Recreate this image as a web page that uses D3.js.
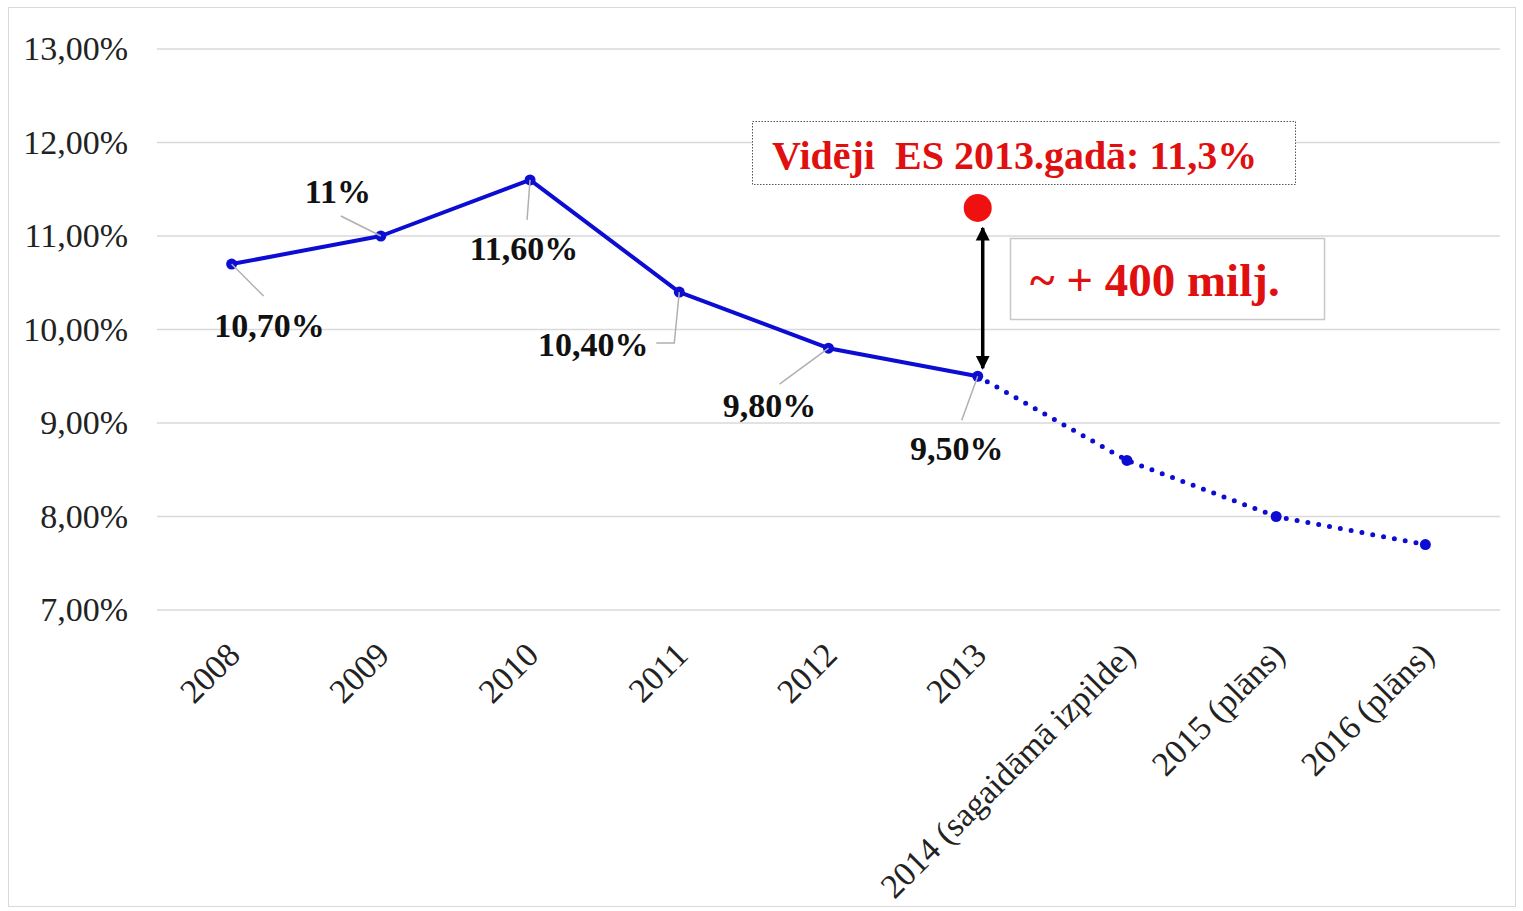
<!DOCTYPE html>
<html>
<head>
<meta charset="utf-8">
<script src="https://cdn.jsdelivr.net/npm/d3@7"></script>
<style>
  body { margin: 0; background: #fff; }
  svg { display: block; font-family: "Liberation Serif", "Times New Roman", serif; }
</style>
</head>
<body>
<svg id="chart" width="1523" height="911"></svg>
<script>
// categories and values
const years = ["2008", "2009", "2010", "2011", "2012", "2013",
  "2014 (sagaidāmā izpilde)", "2015 (plāns)", "2016 (plāns)"];
const rate = [10.7, 11.0, 11.6, 10.4, 9.8, 9.5, 8.6, 8.0, 7.7];
const rateLabels = ["10,70%", "11%", "11,60%", "10,40%", "9,80%", "9,50%", null, null, null];
const yTicks = [7, 8, 9, 10, 11, 12, 13];
const euAverage = 11.3;
const euYear = "2013";
const euText = "Vidēji  ES 2013.gadā: 11,3%";
const gapText = "~ + 400 milj.";
const lastActual = 5; // index of 2013, after it the line is a plan (dotted)

// label placement (offsets from the point, in px) and leader line ends
const labelPos = [
  {dx: 38, dy: 73, lx: 32, ly: 32},
  {dx: -43, dy: -33, lx: -40, ly: -20},
  {dx: -6, dy: 80, lx: -3, ly: 40},
  {dx: -86, dy: 64, lx: -5, ly: 51, hx: -18},
  {dx: -59, dy: 69, lx: -49, ly: 36},
  {dx: -21, dy: 84, lx: -16, ly: 44}
];

const svg = d3.select("#chart");
const margin = {left: 157, right: 23, top: 49, bottom: 301};
const W = 1523, H = 911;

// outer frame
svg.append("rect").attr("x", 8.5).attr("y", 7.5).attr("width", W - 16).attr("height", H - 12)
  .attr("fill", "none").attr("stroke", "#d9d9d9").attr("stroke-width", 1);

const x = d3.scalePoint().domain(years).range([margin.left, W - margin.right]).padding(0.5);
const y = d3.scaleLinear().domain([7, 13]).range([H - margin.bottom, margin.top]);

// grid lines
svg.append("g").selectAll("line").data(yTicks).join("line")
  .attr("x1", margin.left).attr("x2", W - margin.right)
  .attr("y1", d => y(d)).attr("y2", d => y(d))
  .attr("stroke", "#d9d9d9").attr("stroke-width", 1.5);

// y axis labels
const yAxis = d3.axisLeft(y).tickValues(yTicks).tickSize(0).tickPadding(29)
  .tickFormat(d => d3.format(".2f")(d).replace(".", ",") + "%");
const gy = svg.append("g").attr("transform", `translate(${margin.left},0)`).call(yAxis);
gy.select(".domain").remove();
gy.selectAll("text").attr("font-size", 34).attr("fill", "#222")
  .attr("font-family", "Liberation Serif, serif");

// x axis labels, rotated
const xAxis = d3.axisBottom(x).tickSize(0).tickPadding(0);
const gx = svg.append("g").attr("transform", `translate(0,${y(7)})`).call(xAxis);
gx.select(".domain").remove();
gx.selectAll("text")
  .attr("font-size", 34).attr("fill", "#222").attr("font-family", "Liberation Serif, serif")
  .attr("text-anchor", "end").attr("dy", null).attr("y", 0)
  .attr("transform", "translate(10,47) rotate(-45)");

const pts = years.map((c, i) => ({c, v: rate[i], i}));
const line = d3.line().x(d => x(d.c)).y(d => y(d.v));
const blue = "#0c0cd2";

svg.append("path").datum(pts.slice(0, lastActual + 1))
  .attr("d", line).attr("fill", "none").attr("stroke", blue).attr("stroke-width", 4)
  .attr("stroke-linejoin", "round");
svg.append("path").datum(pts.slice(lastActual))
  .attr("d", line).attr("fill", "none").attr("stroke", blue).attr("stroke-width", 5)
  .attr("stroke-linecap", "round").attr("stroke-dasharray", "0 11");

svg.append("g").selectAll("circle").data(pts).join("circle")
  .attr("cx", d => x(d.c)).attr("cy", d => y(d.v)).attr("r", 5.5).attr("fill", blue);

// leader lines and value labels
const lab = pts.filter(d => rateLabels[d.i] !== null);
svg.append("g").selectAll("polyline").data(lab).join("polyline")
  .attr("points", d => {
    const p = labelPos[d.i], px = x(d.c), py = y(d.v);
    let s = `${px},${py} ${px + p.lx},${py + p.ly}`;
    if (p.hx) s += ` ${px + p.lx + p.hx},${py + p.ly}`;
    return s;
  })
  .attr("fill", "none").attr("stroke", "#b0b0b0").attr("stroke-width", 1.5);
svg.append("g").selectAll("text").data(lab).join("text")
  .attr("x", d => x(d.c) + labelPos[d.i].dx).attr("y", d => y(d.v) + labelPos[d.i].dy)
  .attr("text-anchor", "middle").attr("font-size", 34).attr("font-weight", "bold")
  .attr("fill", "#111").text(d => rateLabels[d.i]);

// EU average marker
const ex = x(euYear), ey = y(euAverage);
svg.append("circle").attr("cx", ex).attr("cy", ey).attr("r", 14).attr("fill", "#f01010");

// double arrow between EU average and 2013
const defs = svg.append("defs");
defs.append("marker").attr("id", "ah").attr("viewBox", "0 0 10 10").attr("refX", 9).attr("refY", 5)
  .attr("markerWidth", 4).attr("markerHeight", 4.5).attr("orient", "auto-start-reverse")
  .append("path").attr("d", "M0,0 L10,5 L0,10 Z").attr("fill", "#000");
svg.append("line").attr("x1", ex + 5).attr("x2", ex + 5)
  .attr("y1", ey + 20).attr("y2", y(rate[lastActual]) - 8)
  .attr("stroke", "#000").attr("stroke-width", 3.5)
  .attr("marker-start", "url(#ah)").attr("marker-end", "url(#ah)");

// text boxes
svg.append("rect").attr("x", 752.5).attr("y", 121.5).attr("width", 543).attr("height", 63)
  .attr("fill", "#fff").attr("stroke", "#555").attr("stroke-width", 1).attr("stroke-dasharray", "1.5 1.5");
svg.append("text").attr("x", 772).attr("y", 169).attr("font-size", 40).attr("font-weight", "bold")
  .attr("fill", "#e01010").attr("xml:space", "preserve").style("white-space", "pre").text(euText);

svg.append("rect").attr("x", 1010.5).attr("y", 238.5).attr("width", 314).attr("height", 81)
  .attr("fill", "#fff").attr("stroke", "#c8c8c8").attr("stroke-width", 1.5);
svg.append("text").attr("x", 1030).attr("y", 296).attr("font-size", 47).attr("font-weight", "bold")
  .attr("fill", "#e01010").text(gapText);
</script>
</body>
</html>
